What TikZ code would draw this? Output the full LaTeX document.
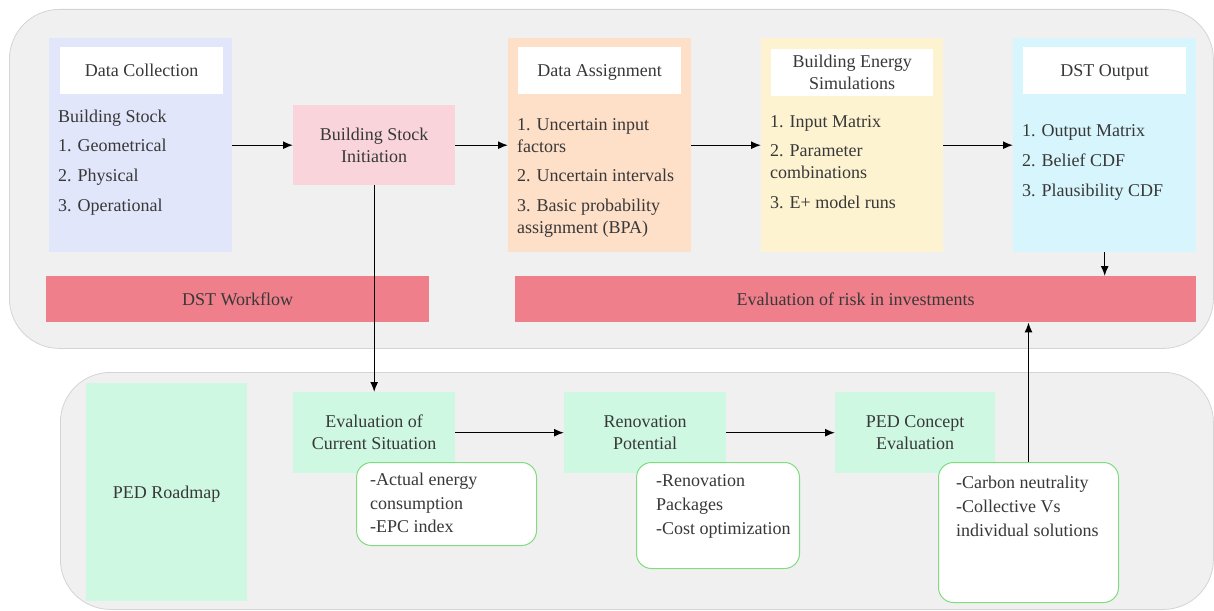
\documentclass[tikz,border=0pt]{standalone}
\usepackage{fontspec}
\setmainfont{Liberation Serif}
\usetikzlibrary{arrows.meta}
\definecolor{panelfill}{HTML}{F0F0F0}
\definecolor{panelline}{HTML}{D4D4D4}
\definecolor{lavender}{HTML}{E1E6FB}
\definecolor{pinkbox}{HTML}{F9D5DB}
\definecolor{peach}{HTML}{FEDFC8}
\definecolor{paleyellow}{HTML}{FEF3D1}
\definecolor{palecyan}{HTML}{D7F5FC}
\definecolor{barred}{HTML}{F07F8C}
\definecolor{mint}{HTML}{CFF8E2}
\definecolor{notegreen}{HTML}{7FDC7F}
\definecolor{txt}{HTML}{383838}
\begin{document}
\begin{tikzpicture}[x=1pt,y=-1pt,
  every node/.style={text=txt, font=\fontsize{18}{22}\selectfont},
  panelbox/.style={draw=panelline, line width=0.8pt, fill=panelfill, rounded corners=50pt, anchor=north west, inner sep=0pt},
  blk/.style={anchor=north west, inner sep=0pt, draw=none},
  hdr/.style={blk, fill=white, minimum width=163pt, minimum height=47pt, align=center},
  oneline/.style={text height=12pt, text depth=0pt},
  lst/.style={anchor=west, inner sep=0pt, align=left},
  notebox/.style={anchor=north west, inner sep=0pt, draw=notegreen, line width=1pt, fill=white, rounded corners=15pt},
  arr/.style={draw=black, line width=1.4pt, -{Latex[length=10pt,width=8pt]}}
]
\useasboundingbox (0,0) rectangle (1214,610);

% panels
\node[panelbox, minimum width=1204pt, minimum height=339pt] (toppanel) at (9,9) {};
\node[panelbox, minimum width=1153pt, minimum height=237pt] (botpanel) at (60,372) {};

% top row boxes
\node[blk, fill=lavender, minimum width=183pt, minimum height=214pt] (dc) at (49,38) {};
\node[hdr, oneline] (dchdr) at (60,47) {Data Collection};
\node[lst] (dctxt) at (58,162.5) {Building Stock\\[7.7pt]1. Geometrical\\[7.7pt]2. Physical\\[7.7pt]3. Operational};

\node[blk, fill=pinkbox, minimum width=162pt, minimum height=80pt, align=center] (bsi) at (293,105) {Building Stock\\Initiation};

\node[blk, fill=peach, minimum width=183pt, minimum height=214pt] (da) at (508,38) {};
\node[hdr, oneline] (dahdr) at (518,47) {Data Assignment};
\node[lst] (datxt) at (517,177.5) {1. Uncertain input\\factors\\[7.5pt]2. Uncertain intervals\\[7.5pt]3. Basic probability\\assignment (BPA)};

\node[blk, fill=paleyellow, minimum width=182pt, minimum height=214pt] (bes) at (761,38) {};
\node[hdr, minimum width=162pt] (beshdr) at (771,48.5) {Building Energy\\Simulations};
\node[lst] (bestxt) at (770,162) {1. Input Matrix\\[7.5pt]2. Parameter\\combinations\\[7.5pt]3. E+ model runs};

\node[blk, fill=palecyan, minimum width=183pt, minimum height=214pt] (dst) at (1013,38) {};
\node[hdr, oneline] (dsthdr) at (1023,47) {DST Output};
\node[lst] (dsttxt) at (1022,162) {1. Output Matrix\\[8pt]2. Belief CDF\\[8pt]3. Plausibility CDF};

% bars
\node[blk, fill=barred, minimum width=383pt, minimum height=46pt, oneline] (wf) at (46,276) {DST Workflow};
\node[blk, fill=barred, minimum width=681pt, minimum height=46pt, oneline] (risk) at (515,276) {Evaluation of risk in investments};

% bottom row
\node[blk, fill=mint, minimum width=161pt, minimum height=218pt, oneline] (roadmap) at (86,383) {PED Roadmap};
\node[blk, fill=mint, minimum width=162pt, minimum height=81pt, align=center] (ecs) at (293,392) {Evaluation of\\Current Situation};
\node[blk, fill=mint, minimum width=162pt, minimum height=81pt, align=center] (rp) at (564,392) {Renovation\\Potential};
\node[blk, fill=mint, minimum width=160pt, minimum height=81pt, align=center] (pec) at (835,392) {PED Concept\\Evaluation};

% notes
\node[notebox, minimum width=180pt, minimum height=83pt] (n1) at (356,462) {};
\node[lst, anchor=north west, font=\fontsize{18}{23.5}\selectfont] (n1txt) at (370,473) {-Actual energy\\consumption\\-EPC index};
\node[notebox, minimum width=163pt, minimum height=106pt] (n2) at (636,462) {};
\node[lst, anchor=north west, font=\fontsize{18}{24}\selectfont] (n2txt) at (656,474) {-Renovation\\Packages\\-Cost optimization};
\node[notebox, minimum width=180pt, minimum height=140pt] (n3) at (938,462) {};
\node[lst, anchor=north west, font=\fontsize{18}{24}\selectfont] (n3txt) at (956,476) {-Carbon neutrality\\-Collective Vs\\individual solutions};

% connectors
\draw[arr] (dc) -- (bsi);
\draw[arr] (bsi) -- (da);
\draw[arr] (da) -- (bes);
\draw[arr] (bes) -- (dst);
\draw[arr] (dst.south) -- (dst.south |- risk.north);
\draw[arr] (bsi.south) -- (ecs.north);
\draw[arr] (ecs) -- (rp);
\draw[arr] (rp) -- (pec);
\draw[arr] (n3.north) -- (n3.north |- risk.south);
\end{tikzpicture}
\end{document}
